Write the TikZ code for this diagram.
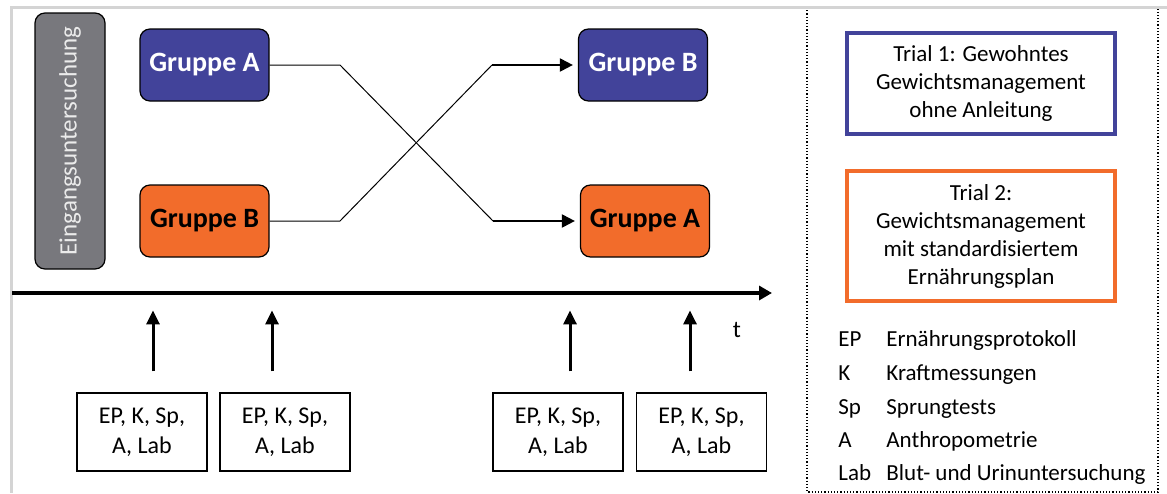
\documentclass[tikz,border=0pt]{standalone}
\usepackage{fontspec}
\setmainfont{Carlito}
\usepackage{xcolor}
\usetikzlibrary{arrows.meta, positioning}

\definecolor{trialblue}{RGB}{66,67,154}
\definecolor{trialorange}{RGB}{242,108,43}
\definecolor{pregray}{RGB}{120,120,125}
\definecolor{framegray}{RGB}{212,212,212}

\begin{document}
\begin{tikzpicture}[
  x=0.5pt, y=-0.5pt,
  grp/.style={draw, rounded corners=5pt, line width=0.6pt, minimum width=64.5pt,
    minimum height=36pt, font=\fontsize{14}{16}\selectfont\bfseries},
  grpA/.style={grp, fill=trialblue, text=white},
  grpB/.style={grp, fill=trialorange, text=black},
  mess/.style={draw, line width=0.6pt, align=center, minimum width=65pt,
    minimum height=39pt, font=\fontsize{12}{15}\selectfont},
  trial/.style={draw, line width=2pt, align=center, minimum width=134pt,
    font=\fontsize{11.5}{14}\selectfont},
  leg/.style={anchor=base west, inner sep=0pt, font=\fontsize{11.5}{14}\selectfont},
  link/.style={line width=0.5pt},
  arr/.style={-{Triangle[length=6.5pt, width=6.5pt]}, line width=1pt, shorten >=2.5pt},
  uparr/.style={-{Triangle[length=7pt, width=6.5pt]}, line width=1.5pt}
]
\useasboundingbox (0,0) rectangle (1167,493);

% legend panel and page frame
\draw[densely dotted, line width=0.6pt] (807,7) rectangle (1158,492);
\draw[framegray, line width=1.5pt] (1167,7) -- (11,7) -- (11,493);

% groups
\node[draw, rounded corners=5pt, line width=0.6pt, fill=pregray, text=black!8,
  rotate=90, minimum width=128pt, minimum height=35pt,
  font=\fontsize{12.5}{14}\selectfont] (EU) at (70,141) {Eingangsuntersuchung};
\node[grpA] (GA1) at (204.5,65) {Gruppe A};
\node[grpB] (GB1) at (204.5,221) {Gruppe B};
\node[grpA] (GB2) at (643,65) {Gruppe B};
\node[grpB] (GA2) at (645,221) {Gruppe A};

\coordinate (kA) at (493,221);
\coordinate (kB) at (492,65);
\draw[link] (GA1.east) -- (340,65) -- (kA);
\draw[link] (GB1.east) -- (340,221) -- (kB);
\draw[arr] (kA) -- (GA2.west);
\draw[arr] (kB) -- (GB2.west);

% time axis
\coordinate (t0) at (12,293);
\coordinate (t1) at (772,293);
\draw[-{Triangle[length=6.5pt, width=7pt]}, line width=2pt] (t0) -- (t1);
\node[font=\fontsize{12}{14}\selectfont] (t) at (737,330) {t};

% measurements
\node[mess] (M1) at (142,432) {EP, K, Sp,\\ A, Lab};
\node[mess] (M2) at (285,432) {EP, K, Sp,\\ A, Lab};
\node[mess] (M3) at (558,432) {EP, K, Sp,\\ A, Lab};
\node[mess] (M4) at (701.5,432) {EP, K, Sp,\\ A, Lab};

\draw[uparr] ([xshift=5.5pt, yshift=10.5pt]M1.north) -- ++(0,-61);
\draw[uparr] ([xshift=-6.5pt, yshift=10.5pt]M2.north) -- ++(0,-61);
\draw[uparr] ([xshift=6pt, yshift=10.5pt]M3.north) -- ++(0,-61);
\draw[uparr] ([xshift=-5.75pt, yshift=10.5pt]M4.north) -- ++(0,-61);

% trials
\node[trial, draw=trialblue, minimum height=50.5pt] (T1) at (981,83.5)
  {Trial 1: Gewohntes\\ Gewichtsmanagement\\ ohne Anleitung};
\node[trial, draw=trialorange, minimum height=65pt] (T2) at (981,236)
  {Trial 2:\\ Gewichtsmanagement\\ mit standardisiertem\\ Ernährungsplan};

% abbreviations
\node[leg] (lEP) at (838,346) {EP};
\node[leg] (lK) at (838,380) {K};
\node[leg] (lSp) at (838,414) {Sp};
\node[leg] (lA) at (838,447) {A};
\node[leg] (lLab) at (838,480) {Lab};
\node[leg] (dEP) at (886,346) {Ernährungsprotokoll};
\node[leg] (dK) at (886,380) {Kraftmessungen};
\node[leg] (dSp) at (886,414) {Sprungtests};
\node[leg] (dA) at (886,447) {Anthropometrie};
\node[leg] (dLab) at (886,480) {Blut- und Urinuntersuchung};
\end{tikzpicture}
\end{document}
